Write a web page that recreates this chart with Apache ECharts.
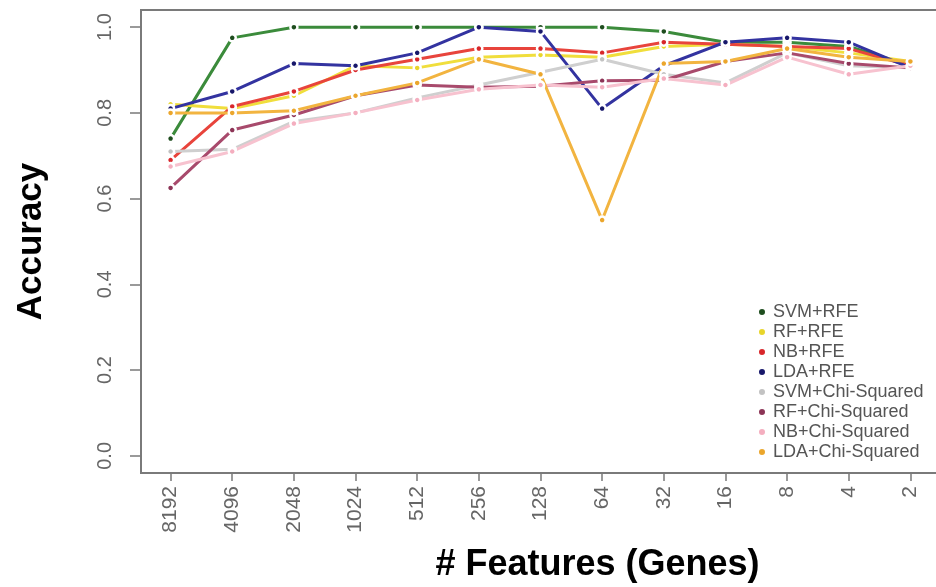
<!DOCTYPE html>
<html>
<head>
<meta charset="utf-8">
<script src="https://cdn.jsdelivr.net/npm/echarts@6/dist/echarts.min.js"></script>
<style>
  html, body { margin: 0; padding: 0; background: #fff; }
  #chart { width: 936px; height: 587px; }
</style>
</head>
<body>
<div id="chart"></div>
<script>
'use strict';

// x categories (number of features kept)
const features = ['8192', '4096', '2048', '1024', '512', '256', '128', '64', '32', '16', '8', '4', '2'];
const yTicks = [0, 0.2, 0.4, 0.6, 0.8, 1.0];

// accuracy per method
const svmRfe = [0.74, 0.975, 1.0, 1.0, 1.0, 1.0, 1.0, 1.0, 0.99, 0.965, 0.965, 0.955, 0.91];
const rfRfe  = [0.82, 0.81, 0.84, 0.91, 0.905, 0.93, 0.935, 0.93, 0.955, 0.96, 0.955, 0.94, 0.92];
const nbRfe  = [0.69, 0.815, 0.85, 0.90, 0.925, 0.95, 0.95, 0.94, 0.965, 0.96, 0.955, 0.95, 0.91];
const ldaRfe = [0.81, 0.85, 0.915, 0.91, 0.94, 1.0, 0.99, 0.81, 0.91, 0.965, 0.975, 0.965, 0.905];
const svmChi = [0.71, 0.715, 0.78, 0.80, 0.835, 0.865, 0.895, 0.925, 0.89, 0.87, 0.94, 0.91, 0.905];
const rfChi  = [0.625, 0.76, 0.795, 0.84, 0.865, 0.86, 0.862, 0.875, 0.876, 0.92, 0.94, 0.915, 0.905];
const nbChi  = [0.675, 0.71, 0.775, 0.80, 0.83, 0.855, 0.865, 0.86, 0.88, 0.865, 0.93, 0.89, 0.91];
const ldaChi = [0.80, 0.80, 0.805, 0.84, 0.87, 0.925, 0.89, 0.55, 0.915, 0.92, 0.95, 0.93, 0.92];

const methods = [
    { name: 'SVM+RFE', data: svmRfe, line: '#3b8b3b', dot: '#1e4d1e' },
    { name: 'RF+RFE', data: rfRfe, line: '#f0de3c', dot: '#e8d52a' },
    { name: 'NB+RFE', data: nbRfe, line: '#e8443c', dot: '#d8262a' },
    { name: 'LDA+RFE', data: ldaRfe, line: '#3333a0', dot: '#17176a' },
    { name: 'SVM+Chi-Squared', data: svmChi, line: '#cfcfcf', dot: '#c2c2c2' },
    { name: 'RF+Chi-Squared', data: rfChi, line: '#a84a6c', dot: '#8c3456' },
    { name: 'NB+Chi-Squared', data: nbChi, line: '#f7c2cf', dot: '#f4aebf' },
    { name: 'LDA+Chi-Squared', data: ldaChi, line: '#f2b440', dot: '#eba62c' }
];

const chart = echarts.init(document.getElementById('chart'), null, { renderer: 'canvas' });

const labelFont = 'Liberation Sans, Arial, sans-serif';
const xTickPos = features.map((f, i) => i);

chart.setOption({
    animation: false,
    backgroundColor: '#fff',
    textStyle: { fontFamily: labelFont },
    grid: {
        left: 141, top: 10, right: -4, bottom: 114,
        show: true, borderColor: '#7a7a7a', borderWidth: 2,
        containLabel: false,
        outerBoundsMode: 'none'
    },
    xAxis: {
        type: 'value',
        min: -0.48,
        max: 12.48,
        splitLine: { show: false },
        axisLine: { show: false, onZero: false },
        axisTick: { show: true, length: 8, customValues: xTickPos, lineStyle: { color: '#7a7a7a', width: 1.5 } },
        axisLabel: {
            customValues: xTickPos,
            rotate: 90,
            margin: 13,
            fontSize: 21,
            color: '#666',
            fontFamily: labelFont,
            formatter: v => features[Math.round(v)]
        },
        name: '# Features (Genes)',
        nameLocation: 'middle',
        nameGap: 74,
        nameTextStyle: { fontSize: 36, fontWeight: 'bold', color: '#000', fontFamily: labelFont, padding: [0, 0, 0, 114] }
    },
    yAxis: {
        type: 'value',
        min: -0.04,
        max: 1.04,
        splitLine: { show: false },
        axisLine: { show: false, onZero: false },
        axisTick: { show: true, length: 11, customValues: yTicks, lineStyle: { color: '#7a7a7a', width: 1.5 } },
        axisLabel: {
            customValues: yTicks,
            rotate: 90,
            margin: 26,
            fontSize: 20,
            color: '#666',
            fontFamily: labelFont,
            formatter: v => v.toFixed(1)
        },
        name: 'Accuracy',
        nameLocation: 'middle',
        nameGap: 92,
        nameTextStyle: { fontSize: 35, fontWeight: 'bold', color: '#000', fontFamily: labelFont }
    },
    legend: {
        orient: 'vertical',
        left: 752,
        top: 298,
        icon: 'circle',
        itemWidth: 8,
        itemHeight: 8,
        itemGap: 2,
        textStyle: { fontSize: 18, lineHeight: 16, color: '#555', fontFamily: labelFont, padding: [0, 0, 0, 2] },
        data: methods.map(m => ({ name: m.name, itemStyle: { color: m.dot } }))
    },
    series: methods.map(m => ({
        name: m.name,
        type: 'line',
        data: m.data.map((v, i) => [i, v]),
        symbol: 'circle',
        symbolSize: 7,
        showSymbol: true,
        lineStyle: { color: m.line, width: 3 },
        itemStyle: { color: m.dot, borderColor: '#fff', borderWidth: 2.5 },
        emphasis: { disabled: true }
    }))
});
</script>
</body>
</html>
